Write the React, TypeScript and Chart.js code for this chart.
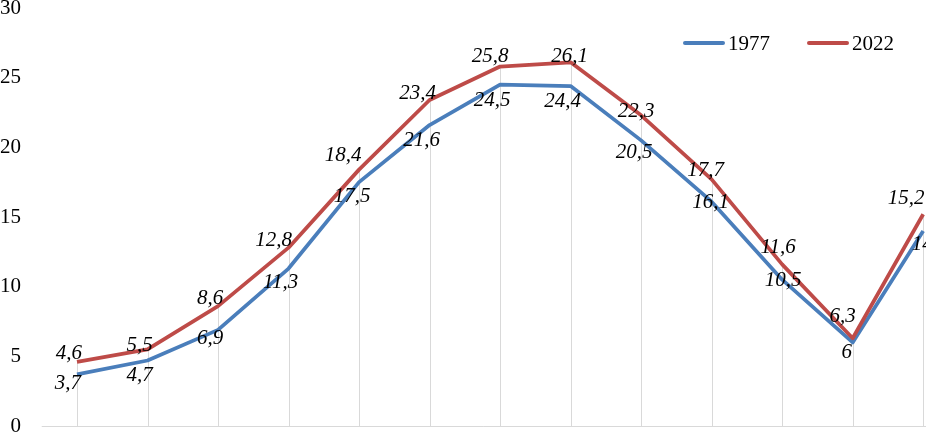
import React, { useEffect, useRef } from "react";
import { Chart, registerables } from "chart.js";

Chart.register(...registerables);

const seriesNames = ["1977", "2022"];
const values1977 = [3.7, 4.7, 6.9, 11.3, 17.5, 21.6, 24.5, 24.4, 20.5, 16.1, 10.5, 6, 14];
const values2022 = [4.6, 5.5, 8.6, 12.8, 18.4, 23.4, 25.8, 26.1, 22.3, 17.7, 11.6, 6.3, 15.2];
const yTicks = [0, 5, 10, 15, 20, 25, 30];

// label center offsets relative to each point (style only)
const labelDx1977 = [-9, -8, -8, -8, -7, -8, -8, -8, -7, -1, 1, -6, -1];
const labelDy1977 = [9, 15, 9, 14, 14, 15, 16, 15, 12, 1, 1, 10, 14];
const labelDx2022 = [-8, -8, -8, -15, -16, -12, -10, -1, -5, -6, -4, -10, -17];
const labelDy2022 = [-8, -4, -8, -7, -14, -6, -10, -6, -4, -9, -17, -22, -16];

const BLUE = "#4A7EBB";
const RED = "#BE4B48";
const GRID = "#d9d9d9";
const FONT = "'Liberation Serif', 'Times New Roman', serif";

const fmt = (v: number) => String(v).replace(".", ",");

const dropLines = {
  id: "dropLines",
  beforeDatasetsDraw(chart: any) {
    const ctx = chart.ctx;
    const a = chart.getDatasetMeta(0).data;
    const b = chart.getDatasetMeta(1).data;
    const bottom = chart.chartArea.bottom;
    ctx.save();
    ctx.strokeStyle = GRID;
    ctx.lineWidth = 1;
    for (let i = 0; i < a.length; i++) {
      const top = Math.min(a[i].y, b[i].y);
      const x = Math.round(a[i].x) + 0.5;
      ctx.beginPath();
      ctx.moveTo(x, top);
      ctx.lineTo(x, bottom);
      ctx.stroke();
    }
    // category axis line, starting half a category before the first point
    const xs = chart.scales.x;
    const yb = Math.round(bottom) + 0.5;
    ctx.beginPath();
    ctx.moveTo(xs.getPixelForValue(-0.5), yb);
    ctx.lineTo(chart.chartArea.right, yb);
    ctx.stroke();
    ctx.restore();
  },
};

const labelsAndLegend = {
  id: "labelsAndLegend",
  afterDatasetsDraw(chart: any) {
    const ctx = chart.ctx;
    ctx.save();
    ctx.font = `italic 21px ${FONT}`;
    ctx.fillStyle = "#000";
    ctx.textAlign = "center";
    ctx.textBaseline = "middle";
    const m0 = chart.getDatasetMeta(0).data;
    const m1 = chart.getDatasetMeta(1).data;
    m0.forEach((p: any, i: number) => {
      ctx.fillText(fmt(values1977[i]), p.x + labelDx1977[i], p.y + labelDy1977[i]);
    });
    m1.forEach((p: any, i: number) => {
      ctx.fillText(fmt(values2022[i]), p.x + labelDx2022[i], p.y + labelDy2022[i]);
    });
    // legend
    const colors = [BLUE, RED];
    const starts = [683, 807];
    const ly = 43;
    ctx.font = `21px ${FONT}`;
    ctx.textAlign = "left";
    ctx.lineCap = "round";
    ctx.lineWidth = 4;
    seriesNames.forEach((name, i) => {
      ctx.strokeStyle = colors[i];
      ctx.beginPath();
      ctx.moveTo(starts[i] + 2, ly);
      ctx.lineTo(starts[i] + 40, ly);
      ctx.stroke();
      ctx.fillStyle = "#000";
      ctx.fillText(name, starts[i] + 45, ly + 1);
    });
    ctx.restore();
  },
};

export default function App() {
  const ref = useRef<HTMLCanvasElement | null>(null);
  useEffect(() => {
    if (!ref.current) return;
    const chart = new Chart(ref.current, {
      type: "line",
      data: {
        datasets: [
          {
            label: seriesNames[0],
            data: values1977.map((v, i) => ({ x: i, y: v })),
            borderColor: BLUE,
            borderWidth: 3.75,
            pointRadius: 0,
            tension: 0,
            borderJoinStyle: "round",
            order: 2,
          },
          {
            label: seriesNames[1],
            data: values2022.map((v, i) => ({ x: i, y: v })),
            borderColor: RED,
            borderWidth: 3.75,
            pointRadius: 0,
            tension: 0,
            borderJoinStyle: "round",
            order: 1,
          },
        ],
      },
      options: {
        responsive: false,
        animation: false,
        devicePixelRatio: 1,
        layout: { padding: { top: 8, bottom: 8, left: 0, right: 0 } },
        plugins: { legend: { display: false }, tooltip: { enabled: false } },
        scales: {
          x: {
            type: "linear",
            min: -0.794,
            max: 12.04,
            grid: { display: false, drawTicks: false },
            border: { display: false },
            ticks: { display: false },
            afterFit: (s: any) => {
              s.height = 0;
            },
          },
          y: {
            min: 0,
            max: 30,
            grid: { display: false, drawTicks: false },
            border: { display: false },
            afterBuildTicks: (s: any) => {
              s.ticks = yTicks.map((v) => ({ value: v }));
            },
            ticks: {
              padding: 0,
              color: "#000",
              font: { family: FONT, size: 21, lineHeight: 0.7 },
              callback: (v: any) => String(v),
            },
            afterFit: (s: any) => {
              s.width = 21;
            },
          },
        },
      },
      plugins: [dropLines, labelsAndLegend],
    });
    return () => chart.destroy();
  }, []);
  return (
    <div style={{ position: "fixed", left: 0, top: 0, width: 926, height: 434, background: "#fff" }}>
      <canvas ref={ref} width={926} height={434} style={{ display: "block" }} />
    </div>
  );
}
